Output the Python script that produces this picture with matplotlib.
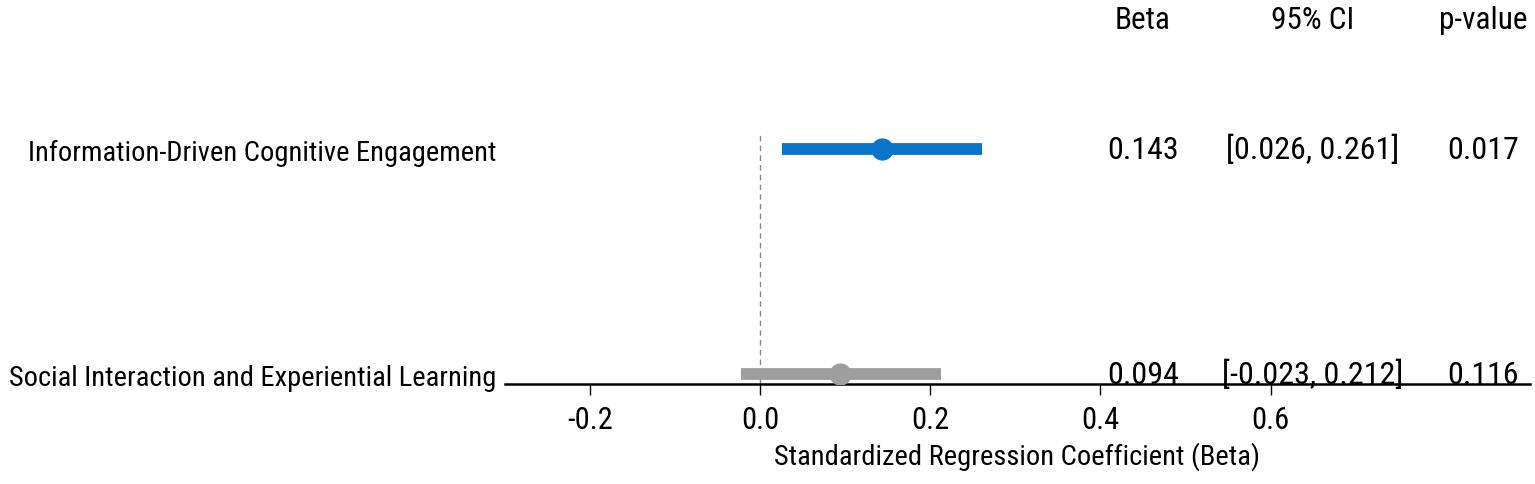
import matplotlib
matplotlib.use("Agg")
import matplotlib.pyplot as plt

plt.rcParams['font.family'] = ['Roboto Condensed', 'DejaVu Sans']

labels = ["Social Interaction and Experiential Learning", "Information-Driven Cognitive Engagement"]
beta = [0.094, 0.143]
ci_low = [-0.023, 0.026]
ci_high = [0.212, 0.261]
pvals = [0.116, 0.017]
colors = ["#9e9e9e", "#0a74c8"]
xticks = [-0.2, 0.0, 0.2, 0.4, 0.6]
headers = ["Beta", "95% CI", "p-value"]

FS_LAB = 20.5
FS_TAB = 23
FS_TICK = 22
fig = plt.figure(figsize=(15.35, 4.85), dpi=100)
ax = fig.add_axes([505/1535, 1-385/485, 1025/1535, 250/485])

ax.axvline(0, color="#888888", linestyle="--", linewidth=1.0, dashes=(4, 3), zorder=1)
for i in range(len(labels)):
    ax.plot([ci_low[i], ci_high[i]], [i, i], color=colors[i], linewidth=8.5, solid_capstyle="butt", zorder=2)
    ax.plot(beta[i], i, "o", color=colors[i], markersize=15, zorder=3)
    ax.text(0.45, i, f"{beta[i]:.3f}", ha="center", va="center", fontsize=FS_TAB)
    ax.text(0.65, i, f"[{ci_low[i]:.3f}, {ci_high[i]:.3f}]", ha="center", va="center", fontsize=FS_TAB)
    ax.text(0.85, i, f"{pvals[i]:.3f}", ha="center", va="center", fontsize=FS_TAB)

for x, h in zip([0.45, 0.65, 0.85], headers):
    ax.text(x, 1.575, h, ha="center", va="center", fontsize=FS_TAB - 0.5, clip_on=False)

ax.set_xlim(-0.3, 0.905)
ax.set_ylim(-0.044, 1.067)
ax.set_yticks(range(len(labels)))
ax.set_yticklabels(labels, fontsize=FS_LAB)
ax.tick_params(axis="y", length=0, pad=6)
ax.set_xticks(xticks)
ax.set_xticklabels([f"{t:.1f}" for t in xticks], fontsize=FS_TICK)
ax.tick_params(axis="x", length=8, width=1, pad=7)
ax.set_xlabel("Standardized Regression Coefficient (Beta)", fontsize=FS_LAB, labelpad=5)
for s in ["top", "right", "left"]:
    ax.spines[s].set_visible(False)
ax.spines["bottom"].set_linewidth(1.8)

fig.savefig("out.png", dpi=100)
